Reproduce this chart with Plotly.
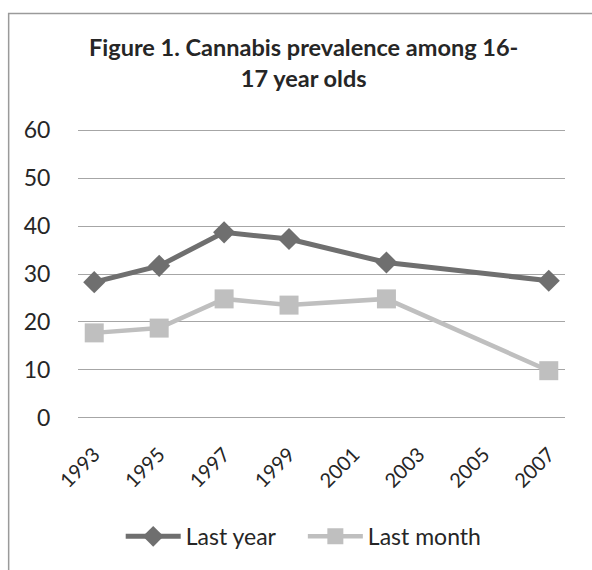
import plotly.graph_objects as go

years = [1993, 1995, 1997, 1999, 2002, 2007]
last_year = [28.3, 31.7, 38.7, 37.3, 32.4, 28.6]
last_month = [17.7, 18.7, 24.8, 23.5, 24.8, 9.8]
tick_years = [1993, 1995, 1997, 1999, 2001, 2003, 2005, 2007]
y_ticks = [0, 10, 20, 30, 40, 50, 60]
title_text = "Figure 1. Cannabis prevalence among 16-<br>17 year olds"

FONT = "Lato"
TEXT = "#262626"

fig = go.Figure()
fig.add_trace(go.Scatter(
    x=years, y=last_year, name="Last year", mode="lines+markers",
    line=dict(color="#6f6f6f", width=5),
    marker=dict(symbol="diamond", size=17, color="#6f6f6f"),
    legend="legend",
))
fig.add_trace(go.Scatter(
    x=years, y=last_month, name="Last month", mode="lines+markers",
    line=dict(color="#bfbfbf", width=4.5),
    marker=dict(symbol="square", size=19, color="#bfbfbf"),
    legend="legend2",
))

fig.add_shape(type="rect", xref="paper", yref="paper",
              x0=-0.1424, x1=1.1, y0=-0.6, y1=1.392,
              line=dict(color="#9a9a9a", width=1.5), layer="below")

legend_common = dict(orientation="h", y=-0.325, yanchor="top", xanchor="left",
                     font=dict(family=FONT, size=23, color=TEXT),
                     itemwidth=55, bgcolor="rgba(0,0,0,0)")

fig.update_layout(
    width=592, height=570,
    margin=dict(l=78, r=27, t=128, b=148, pad=0),
    paper_bgcolor="white", plot_bgcolor="white",
    font=dict(family=FONT, color=TEXT),
    title=dict(text=title_text, x=0.513, xanchor="center", xref="container",
               y=1 - 56 / 570, yanchor="top", yref="container",
               font=dict(family=FONT, size=23.5, color=TEXT, weight="bold")),
    showlegend=True,
    legend=dict(x=0.0877, **legend_common),
    legend2=dict(x=0.4617, **legend_common),
    xaxis=dict(range=[1992.5, 2007.5], tickmode="array", tickvals=tick_years,
               ticktext=[str(t) for t in tick_years], tickangle=-45,
               showgrid=False, zeroline=False, showline=False,
               ticks="outside", ticklen=14, tickcolor="rgba(0,0,0,0)",
               tickfont=dict(family=FONT, size=20, color=TEXT)),
    yaxis=dict(range=[-0.5, 60.5], tickmode="array", tickvals=y_ticks,
               showgrid=True, gridcolor="#a6a6a6", gridwidth=1.3,
               zeroline=False, showline=False,
               ticks="outside", ticklen=22, tickcolor="rgba(0,0,0,0)",
               tickfont=dict(family=FONT, size=23, color=TEXT)),
)

fig.write_html("out.html")
